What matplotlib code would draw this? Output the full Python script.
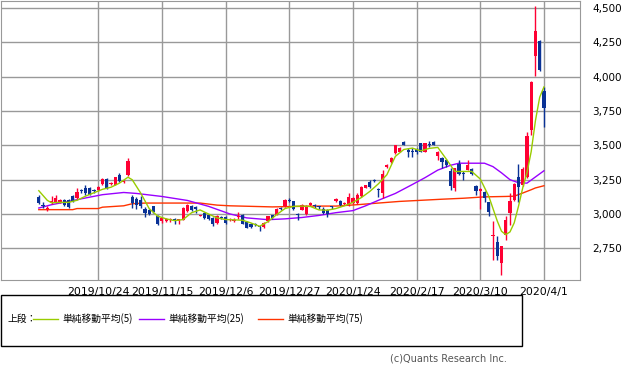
import matplotlib
matplotlib.use("Agg")
import matplotlib.pyplot as plt
from matplotlib.patches import Rectangle
import numpy as np

# daily candles (open, high, low, close), oldest first
opens = [3124, 3068, 3040, 3078, 3086, 3090, 3104, 3102, 3128, 3118,
         3175, 3188, 3190, 3172, 3174, 3222, 3254, 3220, 3215, 3282,
         3232, 3282, 3122, 3112, 3104, 3036, 3030, 3055, 2985, 2946,
         2948, 2955, 2962, 2950, 2960, 3020, 3060, 3050, 2988, 3008,
         2995, 2970, 2935, 2975, 2980, 2955, 2950, 2982, 2995, 2945,
         2925, 2930, 2910, 2905, 2948, 2990, 2996, 3045, 3056, 3104,
         3092, 2998, 3032, 2998, 3063, 3062, 3055, 3038, 3030, 3056,
         3092, 3097, 3072, 3068, 3080, 3080, 3130, 3192, 3236, 3250,
         3182, 3155, 3340, 3378, 3443, 3455, 3523, 3465, 3462, 3470,
         3515, 3455, 3510, 3523, 3426, 3407, 3394, 3310, 3189, 3363,
         3300, 3322, 3327, 3201, 3165, 3157, 3085, 2838, 2795, 2645,
         2851, 3008, 3099, 3273, 3213, 3273, 3612, 4148, 4257, 3897]
highs = [3135, 3085, 3055, 3128, 3141, 3112, 3110, 3108, 3135, 3190,
         3180, 3213, 3195, 3180, 3205, 3260, 3262, 3232, 3272, 3298,
         3250, 3411, 3140, 3125, 3130, 3050, 3040, 3062, 2990, 2975,
         2972, 2968, 2972, 2966, 3050, 3075, 3068, 3058, 2995, 3012,
         3000, 2978, 2995, 2985, 2988, 2970, 2968, 3012, 3000, 2950,
         2932, 2935, 2915, 2940, 2988, 2995, 3045, 3050, 3110, 3115,
         3098, 3010, 3072, 3068, 3090, 3070, 3060, 3048, 3035, 3062,
         3115, 3100, 3088, 3150, 3125, 3150, 3205, 3215, 3245, 3258,
         3190, 3322, 3365, 3412, 3505, 3485, 3528, 3479, 3480, 3478,
         3520, 3518, 3535, 3534, 3460, 3412, 3398, 3334, 3336, 3394,
         3310, 3394, 3335, 3210, 3190, 3165, 3090, 2947, 2838, 2770,
         2983, 3153, 3225, 3365, 3340, 3600, 3965, 4511, 4265, 3921]
lows = [3070, 3045, 3020, 3070, 3080, 3082, 3062, 3045, 3085, 3110,
        3155, 3140, 3135, 3150, 3168, 3215, 3180, 3212, 3210, 3235,
        3228, 3275, 3045, 3040, 3045, 2980, 2995, 3010, 2920, 2938,
        2942, 2945, 2930, 2925, 2955, 3015, 3025, 3010, 2985, 2965,
        2960, 2915, 2930, 2965, 2930, 2950, 2945, 2962, 2925, 2895,
        2900, 2912, 2880, 2900, 2945, 2965, 2990, 3030, 3050, 3090,
        3030, 2958, 3028, 2990, 3060, 3045, 3040, 3000, 2975, 3035,
        3088, 3060, 3068, 3060, 3075, 3075, 3125, 3188, 3190, 3235,
        3125, 3120, 3335, 3370, 3438, 3450, 3500, 3418, 3415, 3440,
        3450, 3450, 3490, 3500, 3394, 3334, 3340, 3177, 3165, 3285,
        3250, 3318, 3285, 3140, 3039, 3090, 2983, 2669, 2669, 2553,
        2809, 2923, 3092, 3085, 3205, 3265, 3576, 4003, 4040, 3632]
closes = [3078, 3058, 3046, 3094, 3116, 3102, 3068, 3052, 3090, 3158,
          3165, 3150, 3142, 3165, 3200, 3254, 3190, 3228, 3266, 3240,
          3244, 3386, 3080, 3068, 3062, 3008, 3002, 3018, 2928, 2970,
          2966, 2960, 2955, 2962, 3044, 3064, 3030, 3035, 2992, 2972,
          2965, 2928, 2983, 2970, 2935, 2962, 2960, 2986, 2930, 2900,
          2905, 2918, 2905, 2935, 2983, 2968, 3039, 3035, 3104, 3092,
          3034, 2992, 3068, 3062, 3080, 3058, 3050, 3008, 2998, 3050,
          3112, 3064, 3080, 3121, 3118, 3140, 3198, 3212, 3196, 3240,
          3172, 3290, 3358, 3407, 3500, 3479, 3503, 3455, 3450, 3448,
          3455, 3515, 3500, 3503, 3455, 3382, 3358, 3201, 3334, 3291,
          3290, 3358, 3291, 3165, 3184, 3117, 3012, 2845, 2693, 2766,
          2954, 3092, 3220, 3196, 3327, 3568, 3962, 4332, 4047, 3769]

# moving averages (day index, value)
ma5_x = [0, 2, 3, 5, 7, 9, 11, 13, 15, 17, 19, 21, 22, 24, 26, 28, 30, 32,
         34, 36, 38, 40, 42, 44, 46, 48, 50, 52, 54, 56, 58, 60, 62, 64, 66,
         68, 70, 72, 74, 76, 78, 80, 82, 84, 86, 88, 90, 92, 94, 96, 98,
         100, 102, 104, 106, 108, 109, 110, 111, 112, 113, 114, 115, 116,
         117, 118, 119]
ma5_y = [3170, 3100, 3082, 3085, 3085, 3100, 3130, 3155, 3180, 3195, 3225,
         3268, 3250, 3153, 3040, 2985, 2965, 2952, 2960, 3010, 3030, 3000,
         2972, 2960, 2958, 2955, 2935, 2911, 2945, 2995, 3040, 3056, 3058,
         3055, 3030, 3028, 3040, 3060, 3085, 3120, 3165, 3220, 3286, 3420,
         3470, 3480, 3460, 3478, 3485, 3400, 3310, 3310, 3310, 3255, 3130,
         2950, 2875, 2850, 2870, 2936, 3056, 3190, 3300, 3455, 3680, 3850,
         3925]
ma25_x = [0, 3, 7, 11, 15, 20, 23, 29, 35, 40, 45, 49, 54, 58, 62, 66, 70,
          74, 77, 80, 84, 88, 91, 94, 97, 99, 105, 107, 109, 111, 113, 115,
          117, 119]
ma25_y = [3044, 3068, 3092, 3117, 3141, 3157, 3150, 3128, 3099, 3056, 3001,
          2972, 2959, 2965, 2975, 2990, 3010, 3025, 3060, 3100, 3150, 3215,
          3265, 3320, 3355, 3370, 3370, 3345, 3300, 3250, 3228, 3225, 3270,
          3315]
ma75_x = [0, 8, 9, 14, 15, 20, 22, 25, 38, 42, 45, 55, 60, 65, 70, 75, 80,
          85, 90, 95, 100, 105, 110, 112, 114, 116, 117, 119]
ma75_y = [3032, 3032, 3040, 3040, 3050, 3060, 3075, 3080, 3080, 3065, 3060,
          3052, 3055, 3058, 3058, 3068, 3080, 3092, 3100, 3108, 3115, 3125,
          3128, 3130, 3153, 3177, 3190, 3206]

tick_pos = [14, 29, 44, 59, 74, 89, 104, 119]
tick_labels = ["2019/10/24", "2019/11/15", "2019/12/6", "2019/12/27",
               "2020/1/24", "2020/2/17", "2020/3/10", "2020/4/1"]
y_ticks = [2750, 3000, 3250, 3500, 3750, 4000, 4250, 4500]

legend_names = ["単純移動平均(5)", "単純移動平均(25)", "単純移動平均(75)"]
c_up, c_down = "#ff0033", "#0a3296"
c_ma5, c_ma25, c_ma75 = "#99cc00", "#9900ff", "#ff3300"

plt.rcParams['font.family'] = ['DejaVu Sans']

fig = plt.figure(figsize=(6.33, 3.72), dpi=100)
ax = fig.add_axes([0.0016, 0.2473, 0.9147, 0.7513])

o = np.array(opens, float)
c = np.array(closes, float)
x = np.arange(len(c))
colors = np.where(c >= o, c_up, c_down)

ax.plot(ma75_x, ma75_y, color=c_ma75, lw=1, zorder=2)
ax.plot(ma25_x, ma25_y, color=c_ma25, lw=1, zorder=2)
ax.plot(ma5_x, ma5_y, color=c_ma5, lw=1, zorder=4)

ax.vlines(x, lows, highs, colors=colors, lw=1, zorder=3)
h = np.maximum(np.abs(c - o), 6)
mid = (o + c) / 2
ax.bar(x, h, bottom=mid - h / 2, width=0.75, color=colors, lw=0, zorder=3)

ax.set_xlim(-8.9, 127.5)
ax.set_ylim(2520, 4554)
ax.set_xticks(tick_pos)
ax.set_xticklabels(tick_labels, fontsize=7.8)
ax.set_yticks(y_ticks)
ax.set_yticklabels([f"{v:,}" for v in y_ticks], fontsize=7.5)
ax.yaxis.tick_right()
ax.tick_params(length=0, pad=5)
ax.tick_params(axis="y", pad=9)
ax.grid(color="#999999", lw=1)
ax.set_axisbelow(True)
for s in ax.spines.values():
    s.set_color("#999999")

# legend box
fig.patches.append(Rectangle((0.0016, 0.0699), 0.823, 0.137, transform=fig.transFigure,
                             fill=False, edgecolor="black", lw=1))
ly = 0.1425
cjk = ['Noto Sans CJK JP', 'DejaVu Sans']
fig.text(7 / 633, ly, "上段：", fontsize=7, va="center", family=cjk)
for x0, col, name in zip([33, 139, 258], [c_ma5, c_ma25, c_ma75], legend_names):
    fig.add_artist(plt.Line2D([x0 / 633, (x0 + 25) / 633], [ly, ly], color=col, lw=1,
                              transform=fig.transFigure))
    fig.text((x0 + 29) / 633, ly, name, fontsize=7, va="center", family=cjk)

fig.text(507 / 633, 0.035, "(c)Quants Research Inc.", fontsize=7, color="#555555",
         ha="right", va="center")

fig.savefig("out.png", dpi=100)
